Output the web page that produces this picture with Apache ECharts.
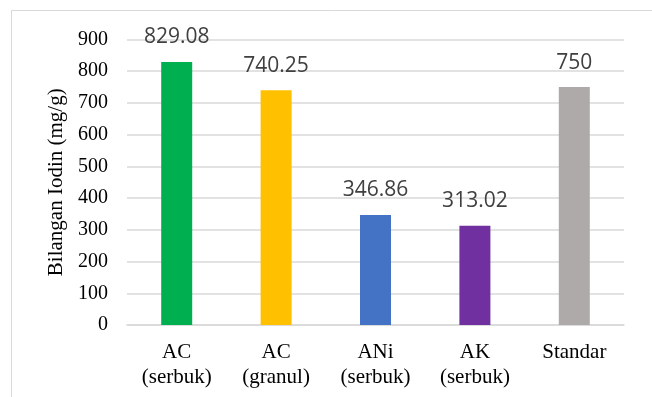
<!DOCTYPE html>
<html>
<head>
<meta charset="utf-8">
<script src="https://cdn.jsdelivr.net/npm/echarts@6/dist/echarts.min.js"></script>
<style>
  html, body { margin: 0; padding: 0; background: #fff; }
  #chart { width: 652px; height: 397px; }
</style>
</head>
<body>
<div id="chart"></div>
<script>
var categories = ['AC\n(serbuk)', 'AC\n(granul)', 'ANi\n(serbuk)', 'AK\n(serbuk)', 'Standar'];
var values = [829.08, 740.25, 346.86, 313.02, 750];
var barColors = ['#00B050', '#FFC000', '#4472C4', '#7030A0', '#AEAAAA'];
var yTicks = [0, 900, 100];

var myChart = echarts.init(document.getElementById('chart'));
myChart.setOption({
    animation: false,
    graphic: [{
        type: 'rect',
        shape: {x: 11.5, y: 10.5, width: 700, height: 450},
        style: {fill: 'none', stroke: '#d9d9d9', lineWidth: 1}
    }],
    grid: {
        left: 127,
        right: 28,
        top: 39.5,
        bottom: 72,
        containLabel: false
    },
    xAxis: {
        type: 'category',
        data: categories,
        axisTick: {show: false},
        axisLine: {lineStyle: {color: '#d9d9d9', width: 1.5}},
        axisLabel: {
            color: '#000',
            fontFamily: 'Liberation Serif',
            fontSize: 21,
            lineHeight: 25,
            margin: 15,
            interval: 0
        }
    },
    yAxis: {
        type: 'value',
        min: yTicks[0],
        max: yTicks[1],
        interval: yTicks[2],
        name: 'Bilangan Iodin (mg/g)',
        nameLocation: 'middle',
        nameGap: 58,
        nameTextStyle: {
            color: '#000',
            fontFamily: 'Liberation Serif',
            fontSize: 21
        },
        axisLine: {show: false},
        axisTick: {show: false},
        axisLabel: {
            color: '#000',
            fontFamily: 'Liberation Serif',
            fontSize: 20,
            margin: 19
        },
        splitLine: {lineStyle: {color: '#d9d9d9', width: 1.5}}
    },
    series: [{
        type: 'bar',
        data: values.map(function (v, i) {
            return {value: v, itemStyle: {color: barColors[i]}};
        }),
        barWidth: 31,
        label: {
            show: true,
            position: 'top',
            distance: 14,
            color: '#404040',
            fontFamily: 'Open Sans',
            fontSize: 21
        }
    }]
});
</script>
</body>
</html>
